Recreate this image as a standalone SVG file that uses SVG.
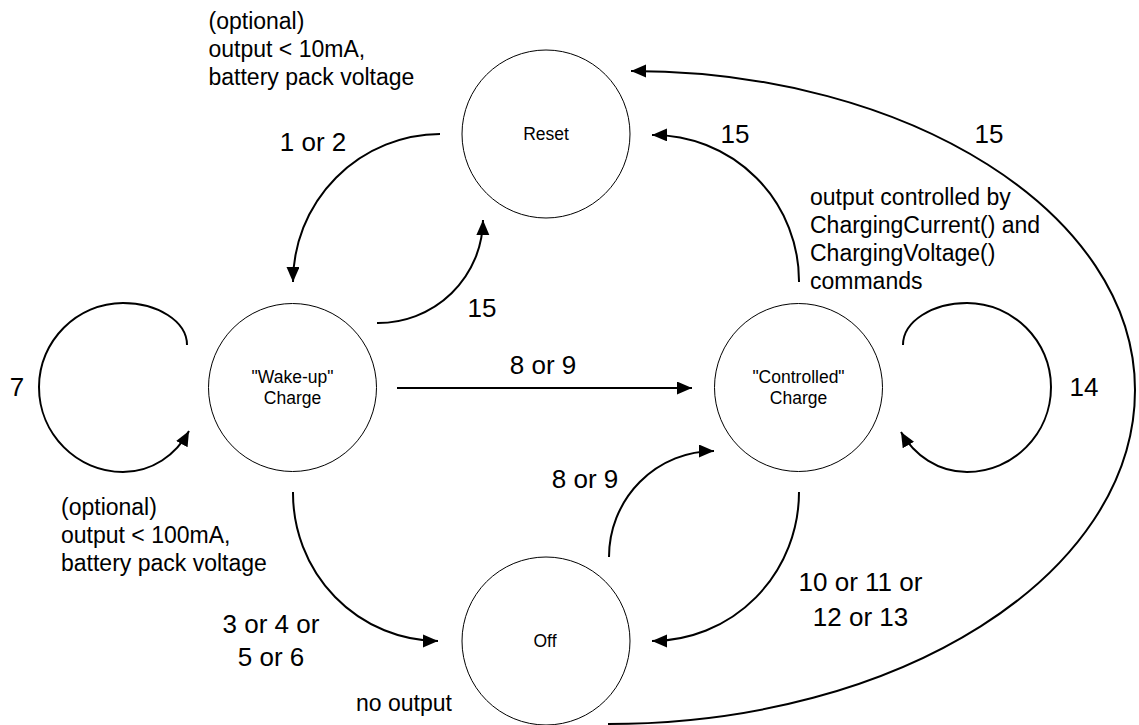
<svg xmlns="http://www.w3.org/2000/svg" width="1139" height="725" viewBox="0 0 1139 725">
<style>
.st{fill:#fff;stroke:#000;stroke-width:1}
.sl{font-family:"Liberation Sans",Arial,sans-serif;font-size:17.5px;fill:#000;text-anchor:middle}
.lb{font-family:"Liberation Sans",Arial,sans-serif;font-size:26px;fill:#000;text-anchor:middle}
.ds{font-family:"Liberation Sans",Arial,sans-serif;font-size:23px;fill:#000}
.cn{fill:none;stroke:#000;stroke-width:2;marker-end:url(#ah)}
</style>
<defs>
<marker id="ah" markerUnits="userSpaceOnUse" markerWidth="16" markerHeight="14" refX="15" refY="6.5" orient="auto" viewBox="0 0 16 14">
<path d="M0,0 L15,6.5 L0,13 z" fill="#000"/>
</marker>
</defs>
<rect width="1139" height="725" fill="#fff"/>
<g id="connectors">
<path class="cn" d="M440,134 A148,148 0 0 0 293,282"/>
<path class="cn" d="M377,323 A105,104 0 0 0 483,220"/>
<path class="cn" d="M799,282 A146,146 0 0 0 652,135"/>
<path class="cn" d="M608,724 C899,724 1135,575 1135,390 C1135,214 910,71 631,71"/>
<path class="cn" d="M397,388 L692,388"/>
<path class="cn" d="M293,492 A146,148 0 0 0 438,641"/>
<path class="cn" d="M799,492 A147,149 0 0 1 652,641"/>
<path class="cn" d="M609,557 A105,106 0 0 1 714,451"/>
<path class="cn" d="M187,345 C187,321 157,303 123,303 C77,303 39,341 39,387 C39,434 77,472 123,472 C152,472 176,455 189,431"/>
<path class="cn" d="M903,345 C903,321 933,303 967,303 C1013,303 1051,341 1051,387 C1051,434 1013,472 967,472 C938,472 914,455 901,432"/>
</g>
<g id="reset">
<circle class="st" cx="546" cy="134" r="84"/>
<text class="sl" x="546" y="140">Reset</text>
</g>
<g id="wakeup">
<circle class="st" cx="292.5" cy="387.5" r="84"/>
<text class="sl" x="292.5" y="383">"Wake-up"</text>
<text class="sl" x="292.5" y="404">Charge</text>
</g>
<g id="controlled">
<circle class="st" cx="798.5" cy="387.5" r="84"/>
<text class="sl" x="798.5" y="383">"Controlled"</text>
<text class="sl" x="798.5" y="404">Charge</text>
</g>
<g id="off">
<circle class="st" cx="546" cy="641" r="84"/>
<text class="sl" x="545" y="647">Off</text>
</g>
<g id="labels">
<text class="lb" x="313" y="151">1 or 2</text>
<text class="lb" x="482" y="317">15</text>
<text class="lb" x="735" y="142.5">15</text>
<text class="lb" x="989" y="142.5">15</text>
<text class="lb" x="543" y="373.5">8 or 9</text>
<text class="lb" x="585" y="487.5">8 or 9</text>
<text class="lb" x="17" y="396">7</text>
<text class="lb" x="1084" y="396">14</text>
<text class="lb" x="271" y="632.5">3 or 4 or</text>
<text class="lb" x="271" y="666">5 or 6</text>
<text class="lb" x="860.5" y="591">10 or 11 or</text>
<text class="lb" x="860.5" y="626">12 or 13</text>
</g>
<g id="notes">
<text class="ds" x="208.5" y="29">(optional)</text>
<text class="ds" x="208.5" y="57">output &lt; 10mA,</text>
<text class="ds" x="208.5" y="85">battery pack voltage</text>
<text class="ds" x="61" y="515">(optional)</text>
<text class="ds" x="61" y="543">output &lt; 100mA,</text>
<text class="ds" x="61" y="571">battery pack voltage</text>
<text class="ds" x="356" y="711">no output</text>
<text class="ds" x="810" y="205">output controlled by</text>
<text class="ds" x="810" y="233">ChargingCurrent() and</text>
<text class="ds" x="810" y="261">ChargingVoltage()</text>
<text class="ds" x="810" y="289">commands</text>
</g>
</svg>
